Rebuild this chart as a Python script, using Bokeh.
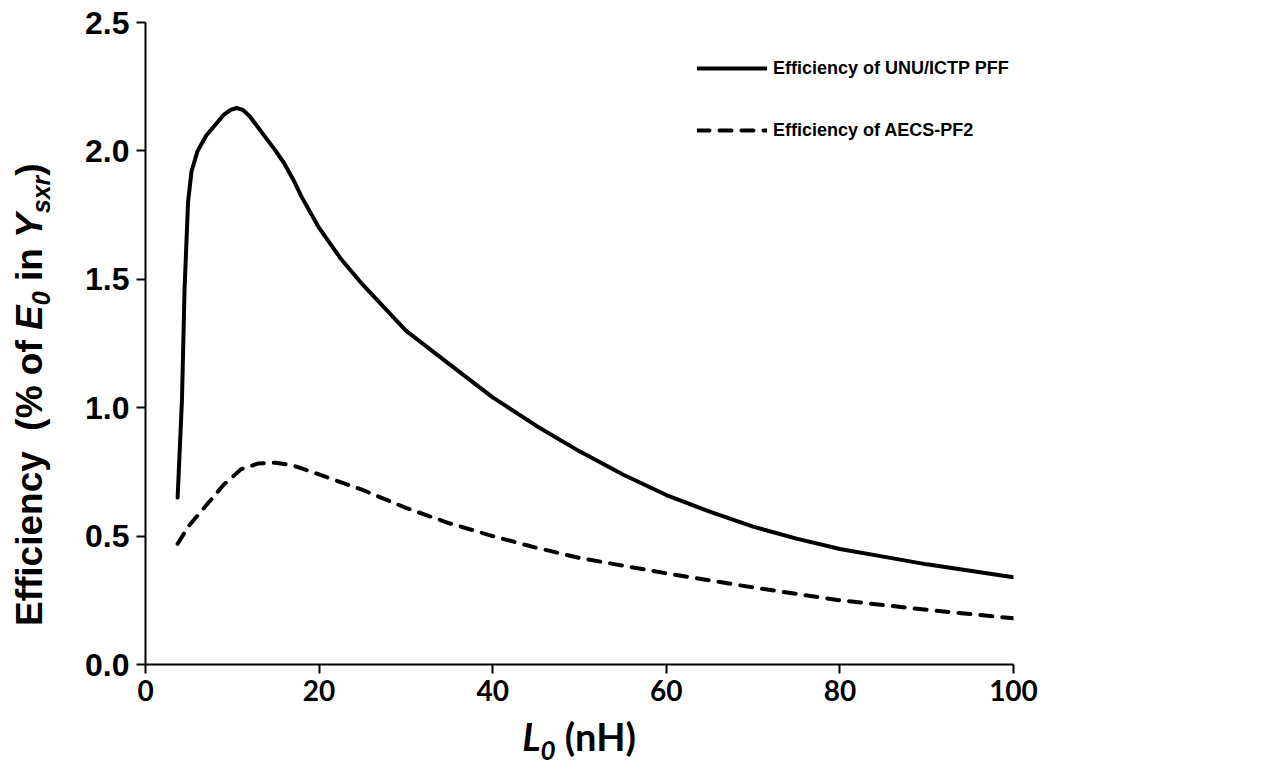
from bokeh.plotting import figure
from bokeh.layouts import row, column
from bokeh.models import Range1d, FixedTicker, PrintfTickFormatter, Legend, LegendItem, Div
from bokeh.embed import file_html
from bokeh.resources import INLINE

# Soft x-ray efficiency (% of E0 in Ysxr) against static inductance L0 (nH)
l0_unu = [3.7, 4.2, 4.5, 4.9, 5.3, 6.0, 7.0, 8.0, 9.0, 9.8, 10.5, 11.2, 12.0, 13.0,
          14.0, 15.0, 16.0, 17.0, 18.0, 20.0, 22.5, 25.0, 30.0, 35.0, 40.0, 45.0,
          50.0, 55.0, 60.0, 65.0, 70.0, 75.0, 80.0, 85.0, 90.0, 95.0, 100.0]
eff_unu = [0.65, 1.03, 1.46, 1.80, 1.92, 2.00, 2.06, 2.10, 2.14, 2.16, 2.167, 2.16, 2.135, 2.09,
           2.045, 2.0, 1.95, 1.89, 1.82, 1.70, 1.58, 1.48, 1.30, 1.17, 1.04, 0.93,
           0.83, 0.74, 0.66, 0.595, 0.537, 0.49, 0.45, 0.42, 0.39, 0.365, 0.34]

l0_aecs = [3.7, 5.0, 7.0, 9.0, 11.0, 13.0, 15.0, 17.0, 20.0, 25.0, 30.0, 35.0, 40.0,
           45.0, 50.0, 55.0, 60.0, 70.0, 80.0, 90.0, 100.0]
eff_aecs = [0.47, 0.54, 0.62, 0.70, 0.76, 0.783, 0.786, 0.775, 0.74, 0.68, 0.61, 0.55, 0.50,
            0.455, 0.415, 0.385, 0.355, 0.30, 0.25, 0.213, 0.18]

x_ticks = [0, 20, 40, 60, 80, 100]
y_ticks = [0.0, 0.5, 1.0, 1.5, 2.0, 2.5]

series_names = ["Efficiency of UNU/ICTP PFF", "Efficiency of AECS-PF2"]

PAGE_W, PAGE_H = 1275, 769
TITLE_COL_W = 60           # column holding the vertical axis title
TITLE_ROW_H = 54           # row holding the horizontal axis title
PLOT_W = PAGE_W - TITLE_COL_W
PLOT_H = PAGE_H - TITLE_ROW_H
LEFT, RIGHT, TOP, BOTTOM = 85, 262, 22, 51

p = figure(width=PLOT_W, height=PLOT_H, x_range=Range1d(0, 100), y_range=Range1d(0, 2.5),
           output_backend="svg", toolbar_location=None,
           min_border_left=LEFT, min_border_right=RIGHT,
           min_border_top=TOP, min_border_bottom=BOTTOM, margin=0)
p.outline_line_color = None
p.xgrid.visible = False
p.ygrid.visible = False
p.background_fill_color = "white"
p.border_fill_color = "white"

r_unu = p.line(l0_unu, eff_unu, line_color="black", line_width=4,
               line_join="round", line_cap="round")
r_aecs = p.line(l0_aecs, eff_aecs, line_color="black", line_width=4,
                line_dash="12 10", line_join="round", line_cap="round")

for ax in (p.xaxis[0], p.yaxis[0]):
    ax.axis_line_width = 2
    ax.axis_line_color = "black"
    ax.major_tick_line_width = 2
    ax.major_tick_line_color = "black"
    ax.major_tick_out = 9
    ax.major_tick_in = 0
    ax.minor_tick_line_color = None
    ax.major_label_text_color = "black"
    ax.major_label_text_font_style = "bold"

p.yaxis.ticker = FixedTicker(ticks=y_ticks)
p.yaxis.formatter = PrintfTickFormatter(format="%.1f")
p.yaxis.major_label_text_font = "Liberation Sans"
p.yaxis.major_label_text_font_size = "32px"
p.yaxis.major_label_standoff = 7

p.xaxis.ticker = FixedTicker(ticks=x_ticks)
p.xaxis.formatter = PrintfTickFormatter(format="%d")
p.xaxis.major_label_text_font = "Lato"
p.xaxis.major_label_text_font_size = "28px"
p.xaxis.major_label_standoff = 6

legend = Legend(items=[LegendItem(label=series_names[0], renderers=[r_unu]),
                       LegendItem(label=series_names[1], renderers=[r_aecs])],
                location=(552, 523), orientation="vertical",
                glyph_width=70, glyph_height=22, label_standoff=6, spacing=40,
                padding=0, margin=0, border_line_color=None,
                background_fill_alpha=0,
                label_text_font="Liberation Sans", label_text_font_style="bold",
                label_text_font_size="18px", label_text_color="black")
p.add_layout(legend)

# vertical axis title, reading upwards, with italic symbols and subscripts
y_title_html = (
    f'<div style="position:relative;width:{TITLE_COL_W}px;height:{PLOT_H}px;">'
    '<div style="position:absolute;left:11px;top:626px;transform-origin:0 0;'
    'transform:rotate(-90deg);white-space:nowrap;font-family:\'Liberation Sans\';'
    'font-weight:bold;font-size:37px;line-height:1;color:#000;">'
    'Efficiency&nbsp;&nbsp;(% of <i>E</i><sub style="font-size:25px;"><i>0</i></sub>'
    ' in <i>Y</i><sub style="font-size:25px;"><i>sxr</i></sub>)'
    '</div></div>'
)
y_title = Div(text=y_title_html, width=TITLE_COL_W, height=PLOT_H, margin=0)

# horizontal axis title centred under the plotting area
x_centre = TITLE_COL_W + LEFT + (PLOT_W - LEFT - RIGHT) / 2
x_title_html = (
    f'<div style="position:relative;width:{PAGE_W}px;height:{TITLE_ROW_H}px;">'
    f'<div style="position:absolute;left:{x_centre:.0f}px;top:2px;transform:translateX(-50%);'
    'white-space:nowrap;font-family:Lato;font-weight:bold;font-size:38px;line-height:1;'
    'color:#000;">'
    '<i>L</i><sub style="font-size:26px;"><i>0</i></sub>&nbsp;(nH)'
    '</div></div>'
)
x_title = Div(text=x_title_html, width=PAGE_W, height=TITLE_ROW_H, margin=0)

page = column(row(y_title, p, spacing=0, margin=0), x_title, spacing=0, margin=0)

open("out.html", "w").write(file_html(page, INLINE))
